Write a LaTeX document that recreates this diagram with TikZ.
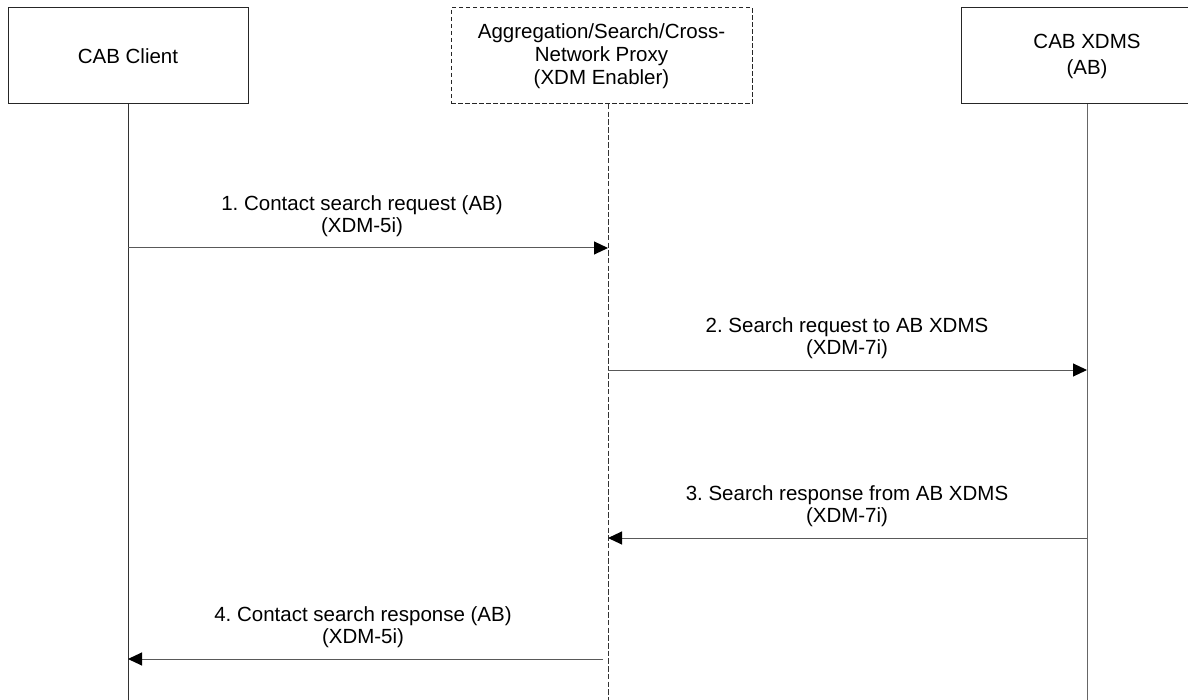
\documentclass[tikz,border=0pt]{standalone}
\usepackage{fontspec}
\setmainfont{Liberation Sans}
\usetikzlibrary{arrows.meta}
\frenchspacing
\begin{document}
\begin{tikzpicture}[x=1pt,y=-1pt,
  every node/.style={font=\fontsize{20.5}{23}\selectfont, align=center, inner sep=0pt},
  actor/.style={draw=black!85, line width=1pt, fill=white, minimum height=96pt},
  proxy/.style={actor, dash pattern=on 4.5pt off 2.5pt},
  life/.style={draw=black!80, line width=1pt},
  msg/.style={draw=black!65, line width=1pt, -{Triangle[length=14pt,width=13pt,color=black]}},
  lbl/.style={text=black}]
\useasboundingbox (0,0) rectangle (1188,700);
\clip (0,0) rectangle (1188,700);
% actors
\node[actor, minimum width=240pt] (client) at (128,56) {CAB Client};
\node[proxy, minimum width=301pt] (proxy) at (601.5,56) {Aggregation/Search/Cross-\\Network Proxy\\(XDM Enabler)};
\node[actor, minimum width=252pt] (xdms) at (1087,56) {CAB XDMS\\[3pt](AB)};
% lifeline coordinates
\coordinate (ptop) at (608,104);
\coordinate (cbot) at (128,700);
\coordinate (pbot) at (608,700);
\coordinate (xbot) at (1087,700);
\draw[life] (client.south) -- (cbot);
\draw[life, dash pattern=on 5.5pt off 2.2pt] (ptop) -- (pbot);
\draw[life, draw=black!60] (xdms.south) -- (xbot);
% message endpoints
\coordinate (m1s) at (128,248);  \coordinate (m1e) at (608,248);
\coordinate (m2s) at (608,370);  \coordinate (m2e) at (1087,370);
\coordinate (m3s) at (1087,538); \coordinate (m3e) at (608,538);
\coordinate (m4s) at (603,659);  \coordinate (m4e) at (128,659);
\draw[msg] (m1s) -- (m1e);
\draw[msg] (m2s) -- (m2e);
\draw[msg] (m3s) -- (m3e);
\draw[msg] (m4s) -- (m4e);
% labels
\node[lbl] (l1) at (362,216) {1. Contact search request (AB)\\[-1pt](XDM-5i)};
\node[lbl] (l2) at (847,338) {2. Search request to AB XDMS\\[-1pt](XDM-7i)};
\node[lbl] (l3) at (847,506) {3. Search response from AB XDMS\\[-1pt](XDM-7i)};
\node[lbl] (l4) at (363,627) {4. Contact search response (AB)\\[-1pt](XDM-5i)};
\end{tikzpicture}
\end{document}
